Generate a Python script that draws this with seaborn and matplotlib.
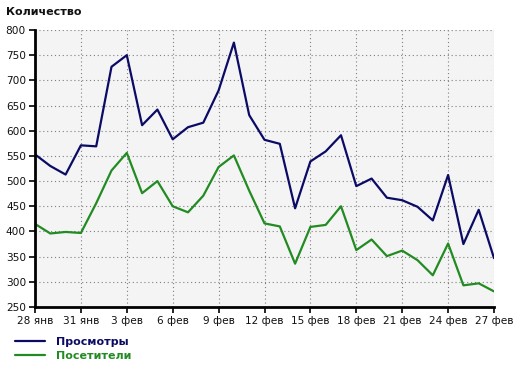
import matplotlib
matplotlib.use("Agg")
import matplotlib.pyplot as plt
import seaborn as sns
import pandas as pd
from matplotlib.lines import Line2D

days = list(range(31))  # 28 Jan .. 27 Feb
views = [553, 530, 513, 571, 569, 727, 750, 611, 642, 583, 607, 616, 680, 775, 631,
         582, 574, 446, 539, 559, 591, 490, 505, 467, 462, 449, 422, 512, 375, 443, 347]
visitors = [415, 396, 399, 397, 456, 521, 556, 476, 500, 450, 438, 471, 528, 551, 481,
            416, 410, 336, 409, 413, 450, 363, 384, 351, 362, 343, 313, 376, 293, 297, 281]
series_names = ["Просмотры", "Посетители"]
tick_pos = [0, 3, 6, 9, 12, 15, 18, 21, 24, 27, 30]
tick_labels = ["28 янв", "31 янв", "3 фев", "6 фев", "9 фев", "12 фев",
               "15 фев", "18 фев", "21 фев", "24 фев", "27 фев"]
y_ticks = list(range(250, 801, 50))

df = pd.DataFrame({
    "day": days * 2,
    "value": views + visitors,
    "series": [series_names[0]] * len(days) + [series_names[1]] * len(days),
})

sns.set_style("white")
plt.rcParams["font.family"] = ["DejaVu Sans"]

colors = {"Просмотры": "#0b0b66", "Посетители": "#228b22"}

fig = plt.figure(figsize=(5.2, 3.66), dpi=100)
ax = fig.add_axes([35 / 520, 1 - 307 / 366, (494 - 35) / 520, (307 - 30) / 366])
ax.set_facecolor("#f4f4f4")

sns.lineplot(data=df, x="day", y="value", hue="series", palette=colors,
             linewidth=1.6, ax=ax, legend=False)

ax.set_xlim(0, 30)
ax.set_ylim(250, 800)
ax.set_xticks(tick_pos)
ax.set_xticklabels(tick_labels)
ax.set_yticks(y_ticks)
ax.set_xlabel("")
ax.set_ylabel("")
ax.grid(True, color="#808080", linestyle=(0, (1, 2.5)), linewidth=0.8)
ax.set_axisbelow(True)
for s in ["top", "right"]:
    ax.spines[s].set_visible(False)
for s in ["left", "bottom"]:
    ax.spines[s].set_color("black")
    ax.spines[s].set_linewidth(2)
ax.tick_params(axis="both", which="both", direction="out", length=4, width=1.2,
               color="black", labelsize=7.6, labelcolor="#111111", pad=2.5,
               bottom=True, left=True)

fig.text(6 / 520, 1 - 12 / 366, "Количество", fontsize=8, fontweight="bold",
         va="center", ha="left", color="#111111")

handles = [Line2D([], [], color=colors[n], lw=1.6) for n in series_names]
leg = fig.legend(handles, series_names, loc="upper left",
                 bbox_to_anchor=(15 / 520, 1 - 337 / 366), frameon=False,
                 handlelength=2.7, handletextpad=1.0, labelspacing=0.35,
                 prop={"weight": "bold", "size": 8}, borderaxespad=0,
                 borderpad=0)
for txt, n in zip(leg.get_texts(), series_names):
    txt.set_color(colors[n])

fig.savefig("out.png", dpi=100)
